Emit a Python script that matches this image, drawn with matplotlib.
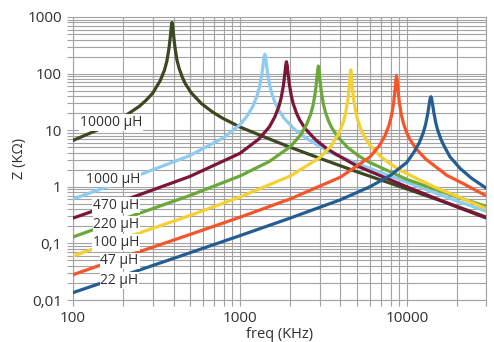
import matplotlib
matplotlib.use("Agg")
import matplotlib.pyplot as plt
from matplotlib.ticker import NullFormatter, LogLocator

plt.rcParams['font.family'] = ['Open Sans', 'DejaVu Sans']

# ---- data (freq in KHz, Z in KOhm) ----
f_10000 = [100, 150, 200, 250, 274, 300, 333, 353, 365, 376, 384, 388, 392, 396, 400, 408, 419, 431, 451, 470,
           510, 588, 686, 784, 1000, 1400, 2000, 3000, 5000, 8000, 12000, 20000, 30000]
z_10000 = [6.6, 11.0, 17.0, 26.5, 33.8, 45, 75, 115, 166, 282, 484, 669, 800, 671, 491, 292, 177, 127, 87, 67,
           46, 29.5, 20.9, 16.4, 11.4, 7.6, 5.0, 3.2, 1.85, 1.15, 0.76, 0.45, 0.29]

f_1000 = [100, 200, 500, 800, 1000, 1100, 1198, 1268, 1310, 1353, 1381, 1395, 1409, 1423, 1437, 1465, 1508, 1550,
          1620, 1691, 1832, 2114, 2466, 2818, 3500, 5000, 10000, 20000, 30000]
z_1000 = [0.61, 1.26, 3.55, 7.4, 12.5, 17.5, 26.8, 41, 58.4, 96.8, 155, 197, 220, 197, 156, 100, 62.3, 45.1,
          31.1, 23.9, 16.5, 10.5, 7.4, 5.8, 4.0, 2.6, 1.2, 0.56, 0.37]

f_470 = [100, 200, 500, 1000, 1300, 1500, 1615, 1710, 1767, 1824, 1862, 1881, 1900, 1919, 1938, 1976, 2033, 2090,
         2185, 2280, 2470, 2850, 3325, 3800, 5000, 10000, 20000, 30000]
z_470 = [0.28, 0.57, 1.52, 3.9, 7.0, 11.4, 17.0, 26.1, 37.4, 63.1, 105, 140, 162, 140, 106, 65.2, 40, 28.8,
         19.8, 15.2, 10.5, 6.7, 4.7, 3.7, 2.35, 1.0, 0.44, 0.28]

f_220 = [100, 200, 500, 1000, 1500, 2000, 2300, 2508, 2655, 2744, 2832, 2891, 2921, 2950, 2980, 3009, 3068, 3157,
         3245, 3393, 3540, 3835, 4425, 5163, 5900, 10000, 20000, 30000]
z_220 = [0.13, 0.27, 0.70, 1.55, 2.8, 5.1, 8.1, 12.6, 19.3, 27.8, 47.3, 81.6, 113, 136, 114, 82.6, 49, 29.7,
         21.3, 14.6, 11.2, 7.75, 4.94, 3.49, 2.75, 1.35, 0.66, 0.45]

f_100 = [100, 200, 500, 1000, 2000, 3000, 3500, 3924, 4154, 4293, 4431, 4524, 4570, 4616, 4662, 4708, 4801, 4939,
         5078, 5308, 5539, 6001, 6924, 8078, 9232, 12000, 15000, 20000, 30000]
z_100 = [0.06, 0.122, 0.31, 0.66, 1.55, 3.25, 5.17, 8.86, 13.6, 19.7, 34.0, 61, 90.4, 116, 90.7, 61.9, 35.2, 21.1,
         15.1, 10.3, 7.89, 5.46, 3.48, 2.46, 1.93, 1.31, 0.96, 0.68, 0.41]

f_47 = [100, 200, 500, 1000, 2000, 4000, 6000, 6800, 7370, 7803, 8063, 8323, 8497, 8583, 8670, 8757, 8843, 9017,
        9277, 9537, 9971, 10404, 11271, 13005, 15173, 17340, 22000, 26000, 30000]
z_47 = [0.028, 0.057, 0.143, 0.29, 0.61, 1.48, 3.35, 5.2, 7.81, 12.0, 17.3, 29.6, 52, 74, 91, 74.2, 52.7, 30.7,
        18.5, 13.3, 9.08, 6.96, 4.82, 3.07, 2.17, 1.6, 1.12, 0.86, 0.69]

f_22 = [100, 200, 500, 1000, 2000, 4000, 6000, 8000, 10000, 11000, 11841, 12537, 12955, 13373, 13651, 13791, 13930,
        14069, 14209, 14487, 14905, 15323, 16020, 16716, 18109, 20895, 24378, 30000]
z_22 = [0.0135, 0.027, 0.068, 0.137, 0.28, 0.59, 1.0, 1.6, 2.7, 4.05, 5.9, 8.99, 12.7, 20.4, 30.3, 36.2, 39,
        36.2, 30.6, 21, 13.5, 9.88, 6.85, 5.27, 3.4, 2.1, 1.42, 0.94]

series_labels = ['10000 µH', '1000 µH', '470 µH', '220 µH', '100 µH', '47 µH', '22 µH']
label_x = [169, 173, 182, 182, 182, 190, 190]
label_y = [13.6, 1.37, 0.476, 0.22, 0.103, 0.049, 0.022]

xticks = [100, 1000, 10000]
xtick_labels = ['100', '1000', '10000']
yticks = [0.01, 0.1, 1, 10, 100, 1000]
ytick_labels = ['0,01', '0,1', '1', '10', '100', '1000']

colors = ['#3b4820', '#8ecbf0', '#7a1638', '#6aa839', '#f5d032', '#f4552b', '#235d91']

freqs = [f_10000, f_1000, f_470, f_220, f_100, f_47, f_22]
zs = [z_10000, z_1000, z_470, z_220, z_100, z_47, z_22]

fig = plt.figure(figsize=(4.94, 3.42), dpi=100)
ax = fig.add_axes([0.1478, 0.1228, 0.8370, 0.8275])

for i, (fx, zy) in enumerate(zip(freqs, zs)):
    ax.plot(fx, zy, color=colors[i], lw=2.3, solid_capstyle='round', solid_joinstyle='round', zorder=3 + i)

ax.set_xscale('log')
ax.set_yscale('log')
ax.set_xlim(100, 30000)
ax.set_ylim(0.01, 1000)

ax.xaxis.set_minor_locator(LogLocator(base=10, subs=range(2, 10)))
ax.yaxis.set_minor_locator(LogLocator(base=10, subs=range(2, 10)))
ax.xaxis.set_minor_formatter(NullFormatter())
ax.yaxis.set_minor_formatter(NullFormatter())
ax.set_xticks(xticks)
ax.set_xticklabels(xtick_labels)
ax.set_yticks(yticks)
ax.set_yticklabels(ytick_labels)

gc = '#a3a3a3'
ax.grid(which='both', color=gc, lw=0.8, zorder=0)
ax.set_axisbelow(True)
for s in ax.spines.values():
    s.set_color(gc)
    s.set_linewidth(0.8)
ax.tick_params(which='both', color=gc, length=4, width=0.8, labelsize=11, labelcolor='#303030')
ax.tick_params(axis='y', pad=4)
ax.tick_params(axis='x', pad=4)

for i, lab in enumerate(series_labels):
    ax.text(label_x[i], label_y[i], lab, ha='center', va='center', fontsize=10,
            color='#303030', zorder=20,
            bbox=dict(facecolor='white', edgecolor='none', pad=0.6))

ax.set_xlabel('freq (KHz)', fontsize=10.5, color='#303030', labelpad=0.5)
ax.set_ylabel('Z (KΩ)', fontsize=10.5, color='#303030', labelpad=0)

fig.savefig('out.png', dpi=100, facecolor='white')
